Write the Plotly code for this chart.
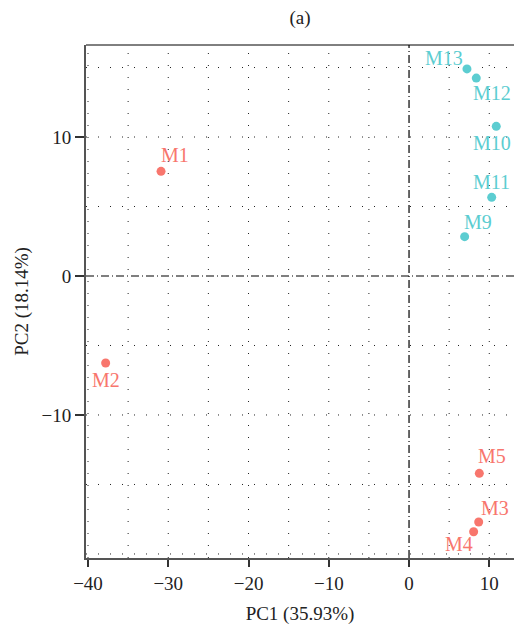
import plotly.graph_objects as go

# PCA scores for the two sample groups
group_a_names = ["M1", "M2", "M3", "M4", "M5"]
group_a_pc1 = [-30.9, -37.8, 8.68, 8.05, 8.76]
group_a_pc2 = [7.53, -6.26, -17.7, -18.4, -14.2]

group_b_names = ["M9", "M10", "M11", "M12", "M13"]
group_b_pc1 = [6.93, 10.87, 10.3, 8.38, 7.22]
group_b_pc2 = [2.83, 10.77, 5.66, 14.24, 14.9]

x_ticks = [-40, -30, -20, -10, 0, 10]
y_ticks = [-10, 0, 10]
x_grid = [-40, -35, -30, -25, -20, -15, -10, -5, 5, 10]
y_grid = [-20, -15, -10, -5, 5, 10, 15]

# label offsets (pixels) so labels sit clear of the points
label_shift = {
    "M1": (14, 16), "M2": (0, -17), "M3": (16, 14), "M4": (-15, -12),
    "M5": (13, 17), "M9": (13, 15), "M10": (-4, -17), "M11": (0, 15),
    "M12": (16, -15), "M13": (-23, 11),
}

RED = "#F8766D"
CYAN = "#5CCDD1"
FONT = "Liberation Serif"

fig = go.Figure()
fig.add_trace(go.Scatter(x=group_a_pc1, y=group_a_pc2, mode="markers",
                         marker=dict(color=RED, size=9), showlegend=False))
fig.add_trace(go.Scatter(x=group_b_pc1, y=group_b_pc2, mode="markers",
                         marker=dict(color=CYAN, size=9), showlegend=False))

for names, xs, ys, col in [(group_a_names, group_a_pc1, group_a_pc2, RED),
                           (group_b_names, group_b_pc1, group_b_pc2, CYAN)]:
    for n, xv, yv in zip(names, xs, ys):
        dx, dy = label_shift[n]
        fig.add_annotation(x=xv, y=yv, text=n, showarrow=False,
                           xshift=dx, yshift=dy,
                           font=dict(family=FONT, size=20, color=col))

dot = "1px,11px"
shapes = []
for gx in x_grid:
    shapes.append(dict(type="line", xref="x", yref="paper", x0=gx, x1=gx, y0=0, y1=1,
                       line=dict(color="#222", width=1, dash=dot), layer="below"))
for gy in y_grid:
    shapes.append(dict(type="line", xref="paper", yref="y", x0=0, x1=1, y0=gy, y1=gy,
                       line=dict(color="#222", width=1, dash=dot), layer="below"))
# reference lines through the origin
shapes.append(dict(type="line", xref="x", yref="paper", x0=0, x1=0, y0=0, y1=1,
                   line=dict(color="black", width=1.2, dash="8px,3px,1px,3px"), layer="below"))
shapes.append(dict(type="line", xref="paper", yref="y", x0=0, x1=1, y0=0, y1=0,
                   line=dict(color="black", width=1.2, dash="8px,3px,1px,3px"), layer="below"))
# top frame line
shapes.append(dict(type="line", xref="paper", yref="paper", x0=0, x1=1, y0=1, y1=1,
                   line=dict(color="black", width=1)))

fig.update_layout(
    width=514, height=629,
    margin=dict(l=86, r=0, t=45, b=71),
    plot_bgcolor="white", paper_bgcolor="white",
    font=dict(family=FONT, size=19, color="#222"),
    title=dict(text="(a)", x=0.5, xref="paper", xanchor="center",
               y=1 - 17 / 629, yanchor="middle",
               font=dict(family=FONT, size=19, color="#222")),
    shapes=shapes,
    xaxis=dict(range=[-40.25, 13.08], tickvals=x_ticks, showgrid=False, zeroline=False,
               showline=True, linecolor="#555", linewidth=2,
               ticks="outside", ticklen=7, tickwidth=1.5, tickcolor="#333",
               tickfont=dict(family=FONT, size=19, color="#222"),
               title=dict(text="PC1 (35.93%)", standoff=14,
                          font=dict(family=FONT, size=19, color="#222"))),
    yaxis=dict(range=[-20.29, 16.62], tickvals=y_ticks, showgrid=False, zeroline=False,
               showline=True, linecolor="#555", linewidth=2,
               ticks="outside", ticklen=9, tickwidth=1.5, tickcolor="#333",
               tickfont=dict(family=FONT, size=19, color="#222"),
               title=dict(text="PC2 (18.14%)", standoff=8,
                          font=dict(family=FONT, size=19, color="#222"))),
)

fig.write_html("out.html")
